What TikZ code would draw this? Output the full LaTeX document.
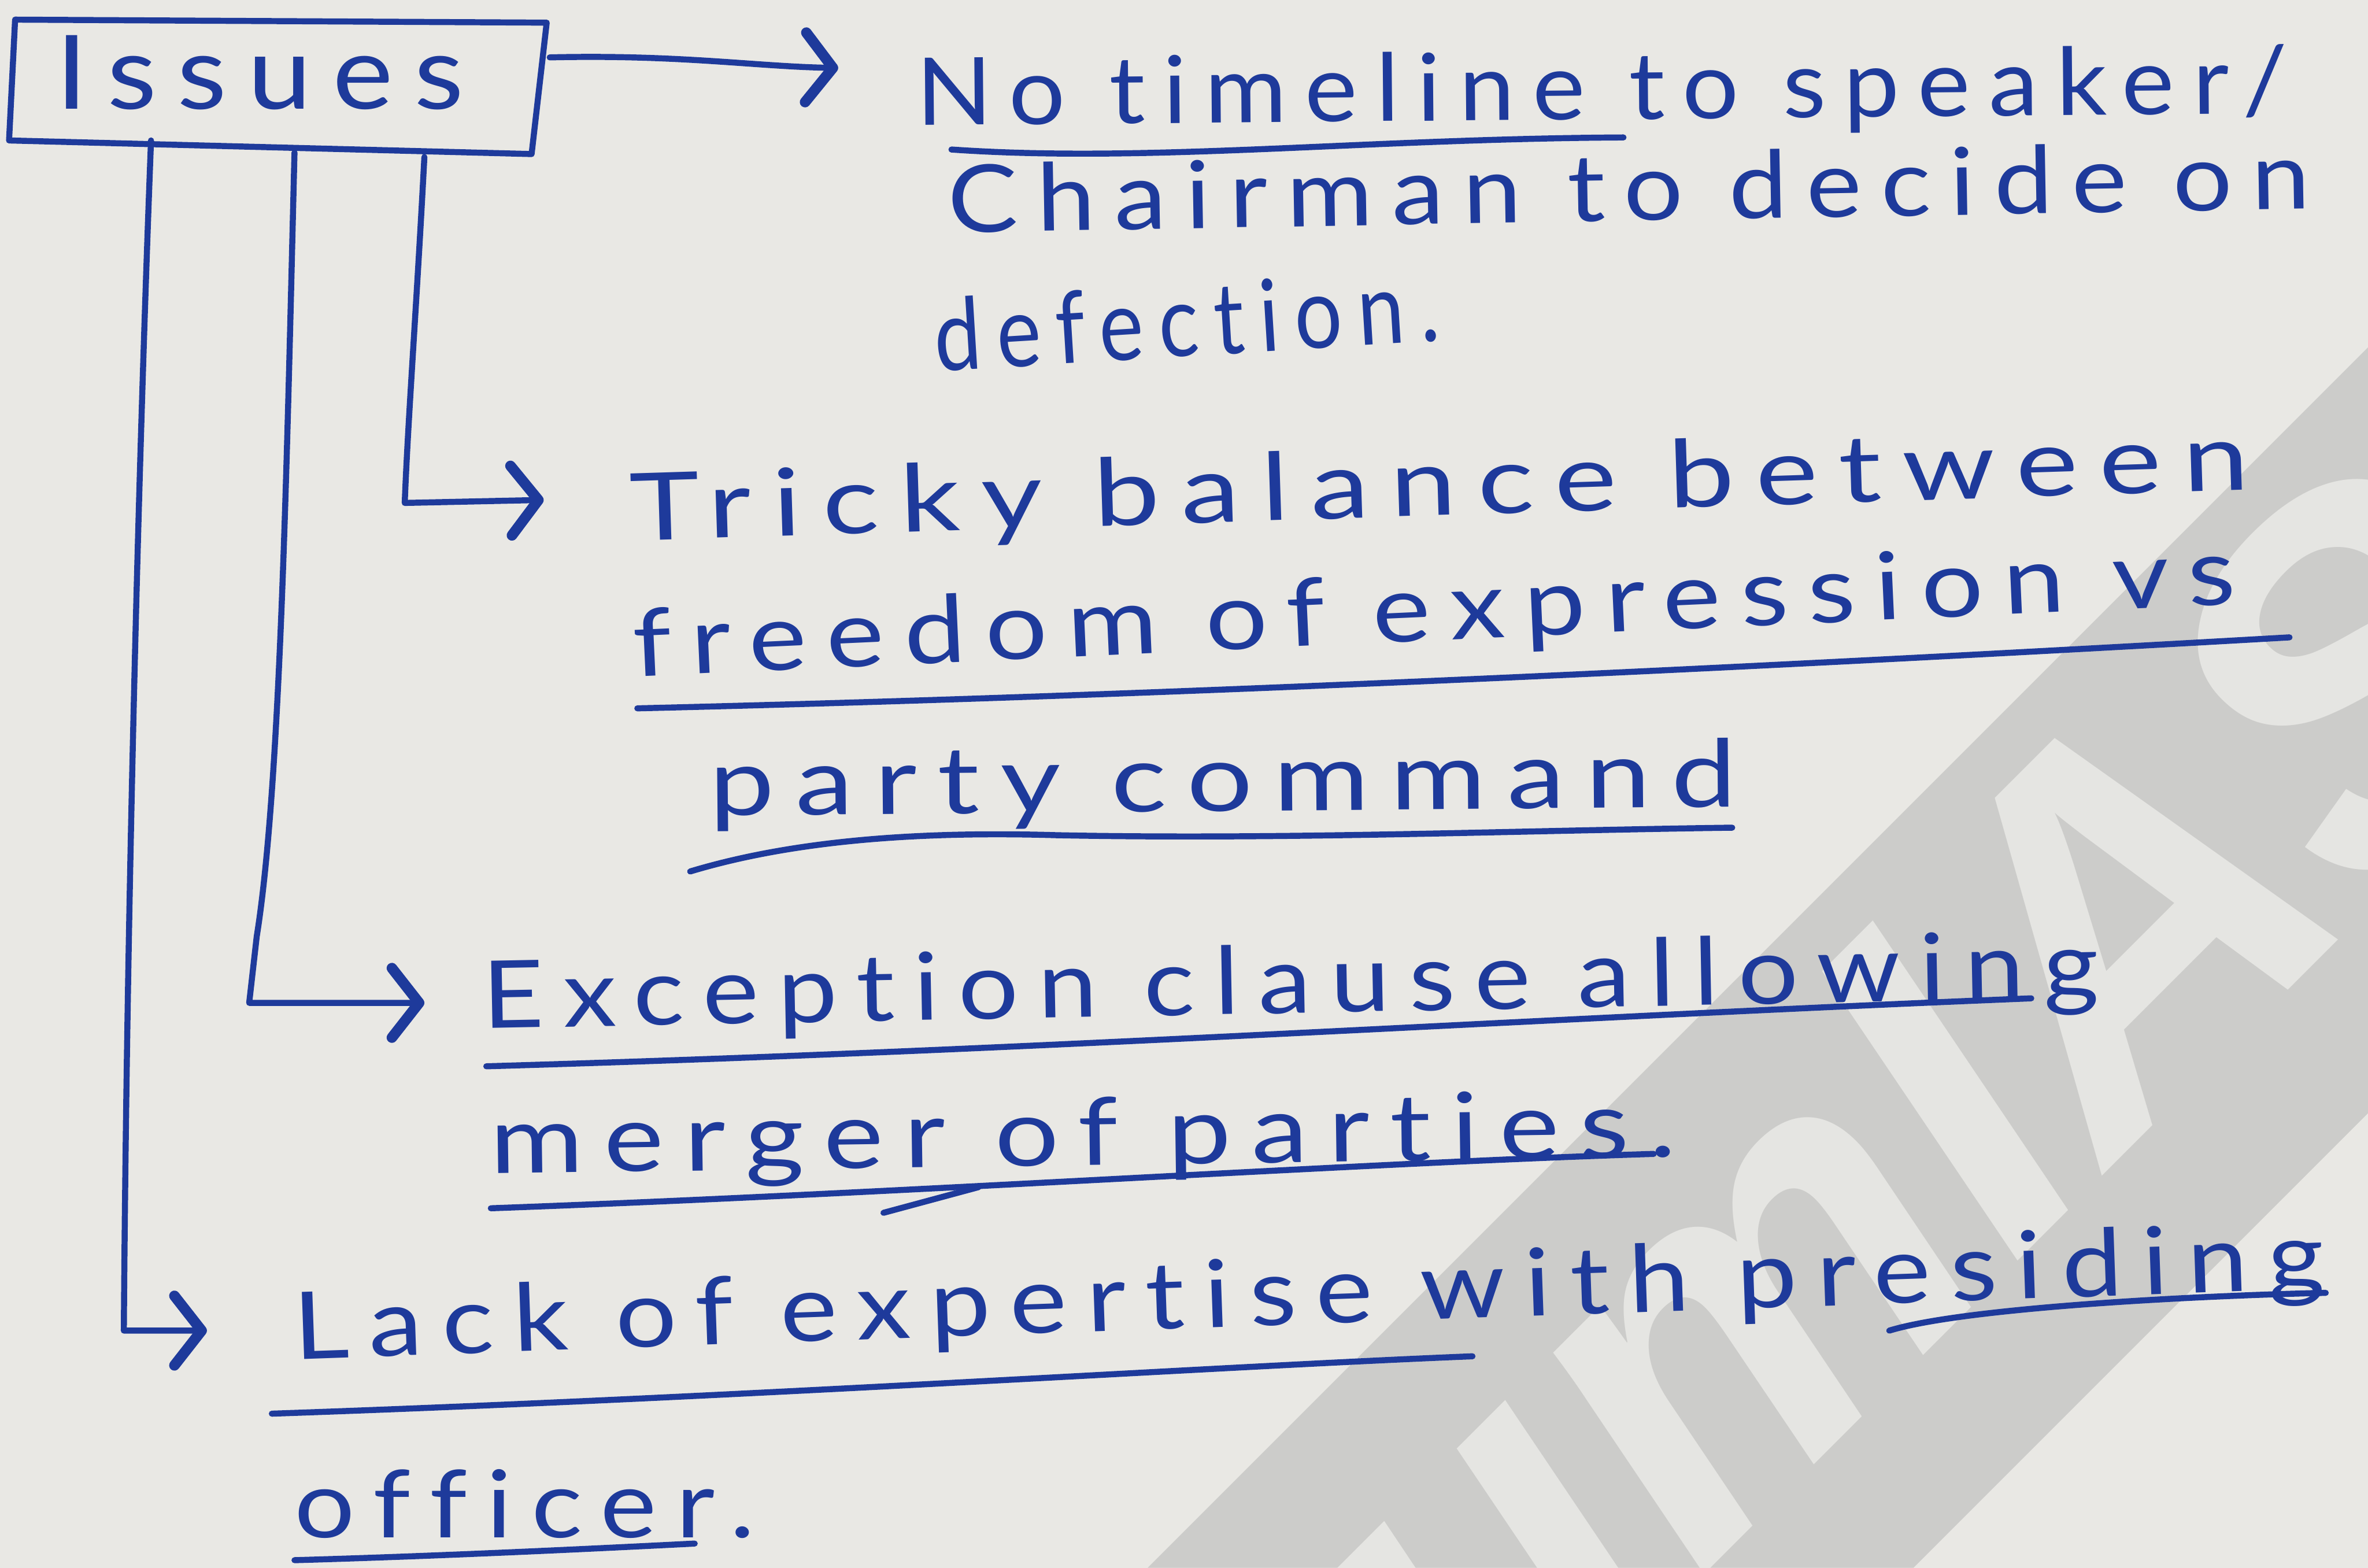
\documentclass[tikz,border=0pt]{standalone}
\usepackage{fontspec}
\usepackage{graphicx}
\setmainfont{Lato}[LetterSpace=18,Ligatures=CommonOff]
\newfontfamily\logofont{Liberation Sans}
\usetikzlibrary{arrows.meta,calc}
\definecolor{paper}{RGB}{233,232,228}
\definecolor{ink}{RGB}{30,58,155}
\definecolor{band}{RGB}{204,204,202}
\definecolor{bandtext}{RGB}{229,229,226}
% stretch a handwritten line horizontally to a given width (in pt)
\newcommand{\hw}[2]{\resizebox{#1pt}{\height}{#2}}

\begin{document}
\begin{tikzpicture}[x=1pt,y=-1pt,
  pen/.style={draw=ink,line width=4pt,line cap=round,line join=round},
  arr/.style={pen,-{Straight Barb[round,length=18pt,width=46pt,line width=7pt]}},
  hand/.style={inner sep=0pt,outer sep=0pt,text=ink,
               font=\fontsize{62}{66}\selectfont,anchor=base west},
]
% sheet
\fill[paper] (0,0) rectangle (1568,1038);
\useasboundingbox (0,0) rectangle (1568,1038);

% stamp printed across the sheet
\fill[band] (1568,230) -- (760,1038) -- (1267,1038) -- (1568,737) -- cycle;
\begin{scope}
  \clip (1568,230) -- (760,1038) -- (1267,1038) -- (1568,737) -- cycle;
  \node[rotate=45,text=bandtext,inner sep=0pt,
        font=\logofont\bfseries\itshape\fontsize{330}{330}\selectfont]
        (logo) at (1271,739) {umIAS};
\end{scope}

% heading box
\node[hand,font=\fontsize{68}{70}\selectfont] (iss) at (37,72) {\hw{270}{Issues}};
\draw[pen] (10,13) -- (362,15) -- (352,102) -- (6,93) -- cycle;

% text lines
\node[hand,rotate=0.5] (l1) at (607,83)  {\hw{908}{No timeline to speaker/}};
\node[hand,rotate=1.0] (l2) at (628,154) {\hw{902}{Chairman to decide on}};
\node[hand,rotate=3.5,font=\fontsize{66}{70}\selectfont] (l3) at (620,246) {\hw{335}{defection.}};
\node[hand,rotate=1.8] (l4) at (418,358) {\hw{1072}{Tricky balance between}};
\node[hand,rotate=2.6] (l5) at (420,448) {\hw{1062}{freedom of expression vs}};
\node[hand,rotate=0.5] (l6) at (470,540) {\hw{680}{party command}};
\node[hand,rotate=1.1] (l7) at (320,681) {\hw{1070}{Exception clause allowing}};
\node[hand,rotate=0.8] (l8) at (325,777) {\hw{785}{merger of parties.}};
\node[hand,rotate=2.0] (l9) at (195,900) {\hw{1345}{Lack of expertise with presiding}};
\node[hand] (l10) at (195,1018) {\hw{305}{officer.}};

% connector ends
\coordinate (boxR) at (364,38);  \coordinate (t1) at (555,45);
\coordinate (sA) at (100,93);    \coordinate (cA) at (82,881);  \coordinate (tA) at (137,881);
\coordinate (sB) at (195,101);   \coordinate (cB) at (165,664); \coordinate (tB) at (281,664);
\coordinate (sC) at (281,104);   \coordinate (cC) at (268,333); \coordinate (tC) at (360,331);

% connectors
\draw[arr] (boxR) .. controls (450,36) and (500,44) .. (t1);
\draw[arr] (sA) .. controls (92,300) and (84,600) .. (cA) -- (tA);
\draw[arr] (sB) .. controls (190,300) and (186,520) .. (170,620) -- (cB) -- (tB);
\draw[arr] (sC) .. controls (276,200) and (270,280) .. (cC) -- (tC);

% underlines
\draw[pen] (630,99) .. controls (760,108) and (900,92) .. (1075,91);
\draw[pen] (422,469) .. controls (800,460) and (1200,440) .. (1516,422);
\draw[pen] (457,577) .. controls (520,558) and (600,550) .. (700,553)
           .. controls (850,556) and (1000,550) .. (1147,548);
\draw[pen] (322,706) .. controls (700,695) and (1000,675) .. (1345,661);
\draw[pen] (325,800) .. controls (600,790) and (900,770) .. (1095,764);
\draw[pen] (585,803) -- (648,786);
\draw[pen] (180,936) .. controls (500,925) and (800,905) .. (975,898);
\draw[pen] (1251,881) .. controls (1300,866) and (1450,858) .. (1540,856);
\draw[pen] (195,1033) .. controls (300,1030) and (400,1025) .. (460,1022);
\end{tikzpicture}
\end{document}
